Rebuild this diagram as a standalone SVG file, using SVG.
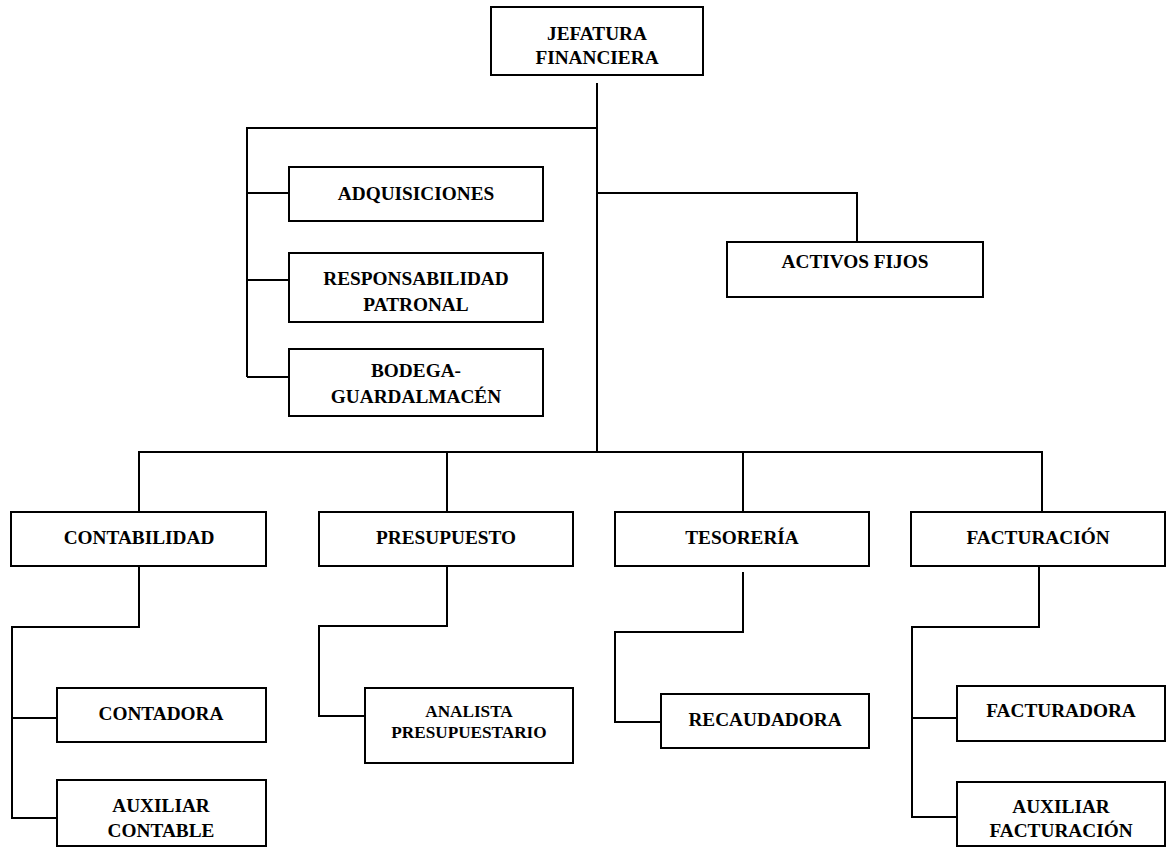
<svg xmlns="http://www.w3.org/2000/svg" width="1167" height="848" viewBox="0 0 1167 848">
<style>
.box{fill:#fff;stroke:#000;stroke-width:2}
.t{font-family:"Liberation Serif","Times New Roman",serif;font-weight:bold;font-size:19.3px;text-anchor:middle;fill:#000}
.s{font-size:17.2px}
.c{fill:none;stroke:#000;stroke-width:2}
</style>
<rect width="1167" height="848" fill="#fff"/>
<g id="connectors">
<path class="c" d="M597,83 V452"/>
<path class="c" d="M597,128 H247 V377"/>
<path class="c" d="M247,193 H289 M247,280 H289 M247,377 H289"/>
<path class="c" d="M597,193 H857 V242"/>
<path class="c" d="M139,512 V452 H1042 V512 M447,452 V512 M743,452 V512"/>
<path class="c" d="M139,566 V627 H12 V818 H57 M12,718 H57"/>
<path class="c" d="M447,566 V626 H319 V716 H365"/>
<path class="c" d="M743,572 V632 H615 V722 H661"/>
<path class="c" d="M1039,566 V627 H912 V817 H957 M912,718 H957"/>
</g>
<g id="jefatura"><rect class="box" x="491" y="7" width="212" height="68"/><text class="t" x="597" y="40">JEFATURA</text><text class="t" x="597" y="64">FINANCIERA</text></g>
<g id="adquisiciones"><rect class="box" x="289" y="167" width="254" height="54"/><text class="t" x="416" y="200">ADQUISICIONES</text></g>
<g id="responsabilidad"><rect class="box" x="289" y="253" width="254" height="69"/><text class="t" x="416" y="285">RESPONSABILIDAD</text><text class="t" x="416" y="311">PATRONAL</text></g>
<g id="bodega"><rect class="box" x="289" y="349" width="254" height="67"/><text class="t" x="416" y="377">BODEGA-</text><text class="t" x="416" y="403">GUARDALMACÉN</text></g>
<g id="activos"><rect class="box" x="727" y="242" width="256" height="55"/><text class="t" x="855" y="268">ACTIVOS FIJOS</text></g>
<g id="contabilidad"><rect class="box" x="11" y="512" width="255" height="54"/><text class="t" x="139" y="544">CONTABILIDAD</text></g>
<g id="presupuesto"><rect class="box" x="319" y="512" width="254" height="54"/><text class="t" x="446" y="544">PRESUPUESTO</text></g>
<g id="tesoreria"><rect class="box" x="615" y="512" width="254" height="54"/><text class="t" x="742" y="544">TESORERÍA</text></g>
<g id="facturacion"><rect class="box" x="911" y="512" width="254" height="54"/><text class="t" x="1038" y="544">FACTURACIÓN</text></g>
<g id="contadora"><rect class="box" x="57" y="688" width="209" height="54"/><text class="t" x="161" y="720">CONTADORA</text></g>
<g id="auxiliar-contable"><rect class="box" x="57" y="780" width="209" height="66"/><text class="t" x="161" y="812">AUXILIAR</text><text class="t" x="161" y="837">CONTABLE</text></g>
<g id="analista"><rect class="box" x="365" y="688" width="208" height="75"/><text class="t s" x="469" y="717">ANALISTA</text><text class="t s" x="469" y="738">PRESUPUESTARIO</text></g>
<g id="recaudadora"><rect class="box" x="661" y="694" width="208" height="54"/><text class="t" x="765" y="726">RECAUDADORA</text></g>
<g id="facturadora"><rect class="box" x="957" y="686" width="208" height="55"/><text class="t" x="1061" y="717">FACTURADORA</text></g>
<g id="auxiliar-facturacion"><rect class="box" x="957" y="782" width="208" height="64"/><text class="t" x="1061" y="813">AUXILIAR</text><text class="t" x="1061" y="837">FACTURACIÓN</text></g>
</svg>
